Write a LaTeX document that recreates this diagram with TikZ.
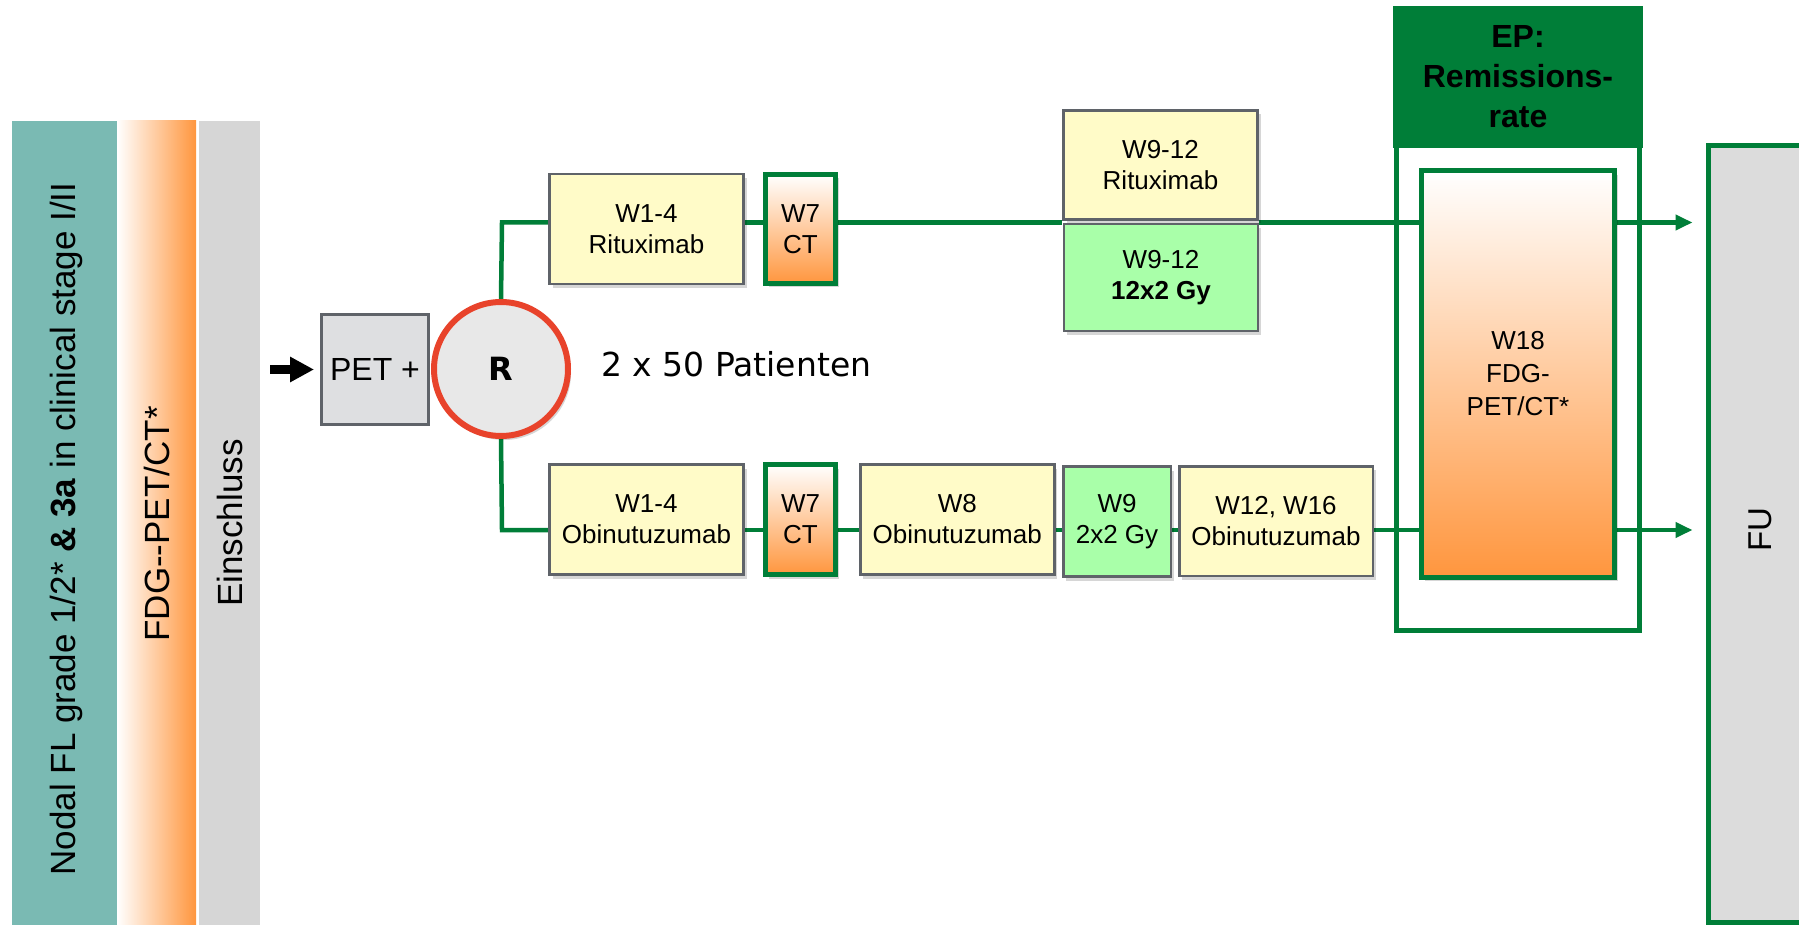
\documentclass[tikz,border=0pt]{standalone}
\usepackage{fontspec}
\setmainfont{Liberation Sans}
\newfontfamily\verd{DejaVu Sans}
\usetikzlibrary{shadows,arrows.meta,backgrounds}

\definecolor{tealbar}{RGB}{122,186,179}
\definecolor{orangeC}{RGB}{255,150,62}
\definecolor{graybar}{RGB}{214,214,214}
\definecolor{trialgreen}{RGB}{0,126,56}
\definecolor{boxyellow}{RGB}{255,251,200}
\definecolor{boxgreen}{RGB}{169,255,169}
\definecolor{boxline}{RGB}{95,99,105}
\definecolor{petfill}{RGB}{222,223,225}
\definecolor{rfill}{RGB}{232,232,232}
\definecolor{rred}{RGB}{232,67,43}
\definecolor{fufill}{RGB}{220,220,220}

\begin{document}
\begin{tikzpicture}[x=1pt,y=-1pt,
  boxfont/.style={font=\fontsize{26}{31}\selectfont},
  softshadow/.style={drop shadow={shadow xshift=3pt,shadow yshift=-4pt,opacity=0.16,fill=black}},
  phase/.style={draw=boxline,line width=2.5pt,inner sep=0pt,align=center,boxfont,softshadow},
  yellowbox/.style={phase,fill=boxyellow},
  greenbox/.style={phase,fill=boxgreen},
  ctbox/.style={draw=trialgreen,line width=5pt,top color=white,bottom color=orangeC,
    inner sep=0pt,align=center,boxfont,minimum width=70pt,softshadow},
  flow/.style={draw=trialgreen,line width=4.5pt,line join=miter},
  flowarrow/.style={flow,-{Triangle[length=17pt,width=15pt]}},
  sidetext/.style={rotate=90,inner sep=0pt,font=\fontsize{35}{35}\selectfont},
]
\useasboundingbox (0,0) rectangle (1799,925);

% side bars
\fill[tealbar] (11.5,121) rectangle (117,925);
\shade[left color=white,right color=orangeC] (117,121) rectangle (196,925);
\fill[graybar] (199,121) rectangle (259.5,925);
\node[sidetext] (incl) at (66,529) {Nodal FL grade 1/2* \textbf{\& 3a} in clinical stage I/II};
\node[sidetext] (fdg) at (157,524) {FDG-{}-PET/CT*};
\node[sidetext] (einschl) at (230,523) {Einschluss};

% entry and randomisation
\node[draw=boxline,line width=3pt,fill=petfill,inner sep=0pt,minimum width=107pt,
  minimum height=110pt,font=\fontsize{32}{38}\selectfont] (pet) at (375,369.5) {PET +};
\coordinate (entry) at (270,369.5);
\draw[line width=9pt,-{Triangle[length=24pt,width=24pt]},shorten >=6pt] (entry) -- (pet.west);
\node[circle,draw=rred,line width=6pt,fill=rfill,minimum size=134pt,inner sep=0pt,
  font=\verd\bfseries\fontsize{32}{32}\selectfont,softshadow] (rand) at (501,369) {R};
\node[anchor=base west,inner sep=0pt,font=\verd\fontsize{33}{33}\selectfont] (npat) at (601,376) {2 x 50 Patienten};

% arm A
\node[yellowbox,minimum width=194pt,minimum height=110pt] (r1) at (646.5,229) {W1-4\\Rituximab};
\node[ctbox,minimum height=109pt] (ct1) at (800.5,229) {W7\\CT};
\node[yellowbox,minimum width=194pt,minimum height=109pt] (r9) at (1160.5,165) {W9-12\\Rituximab};
\node[greenbox,minimum width=194pt,minimum height=107pt] (g9) at (1161,277.5) {W9-12\\\textbf{12x2 Gy}};

% arm B
\node[yellowbox,minimum width=194pt,minimum height=110pt] (o1) at (646.5,519.5) {W1-4\\Obinutuzumab};
\node[ctbox,minimum height=110pt] (ct2) at (800.5,519.5) {W7\\CT};
\node[yellowbox,minimum width=194pt,minimum height=110pt] (o8) at (957.25,519.5) {W8\\Obinutuzumab};
\node[greenbox,minimum width=107.5pt,minimum height=110pt] (g9b) at (1117,521.5) {W9\\2x2 Gy};
\node[yellowbox,minimum width=193.5pt,minimum height=109.5pt] (o12) at (1276,521) {W12, W16\\Obinutuzumab};

% endpoint block
\draw[trialgreen,line width=5pt] (1396.5,140) rectangle (1639.5,630);
\node[fill=trialgreen,minimum width=250pt,minimum height=142pt,inner sep=0pt,align=center,
  font=\fontsize{32}{40}\selectfont\bfseries] (ep) at (1518,77) {EP:\\Remissions-\\rate};
\node[draw=trialgreen,line width=5pt,top color=white,bottom color=orangeC,minimum width=193pt,
  minimum height=406pt,inner sep=0pt,align=center,font=\fontsize{26}{33}\selectfont,softshadow]
  (w18) at (1518,374) {W18\\FDG-\\PET/CT*};

% follow-up
\node[draw=trialgreen,line width=5pt,fill=fufill,minimum width=105pt,minimum height=776.5pt,
  inner sep=0pt] (fu) at (1760.5,534.25) {};
\node[rotate=90,inner sep=0pt,font=\fontsize{33}{33}\selectfont] (futext) at (1760.5,530) {FU};

% connectors
\begin{scope}[on background layer]
\coordinate (top) at (502,222.5);
\coordinate (bot) at (502,530);
\draw[flow] (rand.north) -- (top) -- (r1.west |- top);
\draw[flow] (r1.east |- top) -- (ct1.west |- top);
\draw[flow] (ct1.east |- top) -- (r9.west |- top);
\draw[flow] (r9.east |- top) -- (w18.west |- top);
\draw[flowarrow,shorten >=13pt] (w18.east |- top) -- (fu.west |- top);
\draw[flow] (rand.south) -- (bot) -- (o1.west |- bot);
\draw[flow] (o1.east |- bot) -- (ct2.west |- bot);
\draw[flow] (ct2.east |- bot) -- (o8.west |- bot);
\draw[flow] (o8.east |- bot) -- (g9b.west |- bot);
\draw[flow] (g9b.east |- bot) -- (o12.west |- bot);
\draw[flow] (o12.east |- bot) -- (w18.west |- bot);
\draw[flowarrow,shorten >=13pt] (w18.east |- bot) -- (fu.west |- bot);
\end{scope}
\end{tikzpicture}
\end{document}
